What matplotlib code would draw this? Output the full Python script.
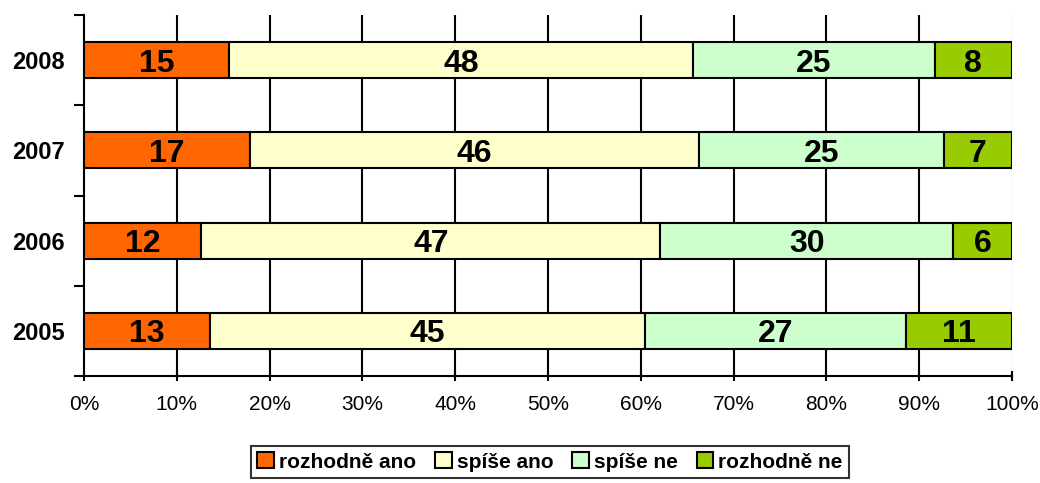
import matplotlib.pyplot as plt
import numpy as np

plt.rcParams['font.family'] = ['Liberation Sans', 'DejaVu Sans']

years = ['2005', '2006', '2007', '2008']
series = ['rozhodně ano', 'spíše ano', 'spíše ne', 'rozhodně ne']
values = {
    'rozhodně ano': [13, 12, 17, 15],
    'spíše ano': [45, 47, 46, 48],
    'spíše ne': [27, 30, 25, 25],
    'rozhodně ne': [11, 6, 7, 8],
}
colors = ['#FF6600', '#FFFFCC', '#CCFFCC', '#99CC00']

data = np.array([values[s] for s in series], dtype=float)
totals = data.sum(axis=0)
shares = data / totals * 100

fig = plt.figure(figsize=(10.4, 4.83), dpi=100)
ax = fig.add_axes([84 / 1040, 1 - 376 / 483, 928 / 1040, 361 / 483])

y = np.arange(len(years))
left = np.zeros(len(years))
for i, s in enumerate(series):
    bars = ax.barh(y, shares[i], 0.4, left=left, color=colors[i],
                   edgecolor='black', linewidth=1.5, label=s, zorder=3)
    for j, b in enumerate(bars):
        ax.text(left[j] + shares[i][j] / 2, y[j], f'{int(data[i][j])}',
                ha='center', va='center_baseline', fontsize=23,
                fontweight='bold', zorder=4)
    left += shares[i]

ax.set_xlim(0, 100)
ax.set_ylim(-0.5, len(years) - 0.5)
ax.set_xticks(np.arange(0, 101, 10))
ax.set_xticklabels([f'{v}%' for v in range(0, 101, 10)], fontsize=15)
# gridlines: black, except the plot-area border at 100% which is light grey
for v in range(10, 100, 10):
    ax.axvline(v, color='black', linewidth=1.5, zorder=0)
ax.axvline(100, color='#C8C8C8', linewidth=1, zorder=0)
ax.set_yticks(np.arange(-0.5, len(years), 1))
ax.set_yticklabels([])
ax.set_yticks(y, minor=True)
ax.set_yticklabels(years, minor=True, fontsize=17, fontweight='bold')
ax.tick_params(axis='y', which='minor', length=0, pad=14)
ax.tick_params(axis='y', which='major', length=7, width=1.5, direction='out')
ax.tick_params(axis='x', length=7, width=1.5, direction='inout', pad=10)
for sp in ['top', 'right']:
    ax.spines[sp].set_visible(False)
for sp in ['left', 'bottom']:
    ax.spines[sp].set_linewidth(1.5)

leg = fig.legend(loc='center', bbox_to_anchor=(550 / 1040, 1 - 462 / 483), ncol=4,
                 frameon=True, fancybox=False, edgecolor='black',
                 prop={'weight': 'bold', 'size': 15},
                 handlelength=0.8, handleheight=0.8, handletextpad=0.25,
                 columnspacing=0.9, borderpad=0.3, borderaxespad=0)
leg.get_frame().set_linewidth(1.5)

plt.savefig('out.png', dpi=100)
